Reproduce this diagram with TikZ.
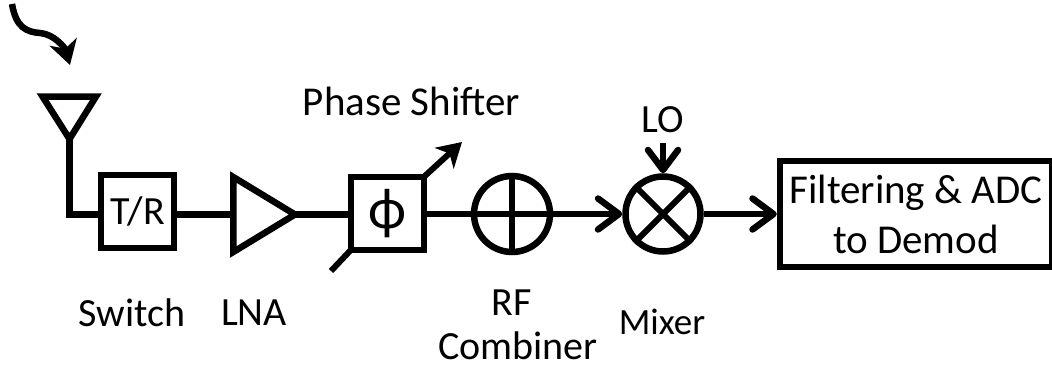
\documentclass[tikz,border=0pt]{standalone}
\usepackage{fontspec}
\setmainfont{Carlito}
\usetikzlibrary{arrows.meta}
\tikzset{
  wire/.style={line width=6.5pt,line join=miter},
  blockbox/.style={draw,line width=6pt,minimum width=73pt,minimum height=73pt,inner sep=0pt},
  ring/.style={draw,circle,line width=6.5pt,inner sep=0pt},
  label/.style={inner sep=0pt,font=\fontsize{40}{45}\selectfont,align=center},
  barb/.style={-{Straight Barb[length=21pt,width=31pt,line width=6.5pt,round]}},
  solidtip/.style={-{Stealth[length=24pt,width=28pt,inset=7pt]}}
}
\begin{document}
\begin{tikzpicture}[x=1pt,y=-1pt]
\useasboundingbox (0,0) rectangle (1052,369);
% incoming wave
\coordinate (wavestart) at (12,4);
\coordinate (wavetip) at (70,65);
\draw[line width=6.5pt,solidtip] (wavestart) .. controls (16,28) and (27,32) .. (40,33) .. controls (54,34) and (65,48) .. (wavetip);
% antenna
\coordinate (antl) at (42.5,96.5);
\coordinate (antr) at (96,96.5);
\coordinate (antb) at (69.5,139);
\draw[line width=6.5pt,miter limit=10] (antl) -- (antr) -- (antb) -- cycle;
% blocks
\node[blockbox,label] (sw) at (137.5,211.5) {T/R};
\node[blockbox] (ps) at (387.5,213.5) {\fontsize{58}{62}\selectfont ϕ};
\node[ring,minimum size=76pt] (comb) at (512,214) {};
\node[ring,minimum size=75pt] (mix) at (663,214) {};
\node[draw,line width=6.5pt,minimum width=272pt,minimum height=106pt,inner sep=0pt,label,font=\fontsize{41}{50}\selectfont] (filt) at (916,214) {Filtering \& ADC\\to Demod};
% LNA
\coordinate (lnat) at (233.25,177);
\coordinate (lnab) at (233.25,252);
\coordinate (lnatip) at (295,214.5);
\draw[line width=6.5pt,miter limit=10] (lnat) -- (lnatip) -- (lnab) -- cycle;
% connectors
\coordinate (feedcorner) at (69.5,214.5);
\draw[wire] (antb) -- (feedcorner) -- (sw.west |- feedcorner);
\draw[wire] (sw.east |- feedcorner) -- (233,214.5);
\draw[wire] (lnatip) -- (ps.west |- lnatip);
\draw[wire] (ps.east |- comb) -- (comb.west);
\draw[wire,barb] (comb.east) -- (mix.west);
\draw[wire,barb] (mix.east) -- (filt.west);
% combiner cross
\draw[line width=6pt] (comb.north) -- (comb.south);
\draw[line width=6pt] (comb.west) -- (comb.east);
% mixer cross
\draw[line width=6pt] (mix.45) -- (mix.225);
\draw[line width=6pt] (mix.135) -- (mix.315);
% LO
\coordinate (lostart) at (663,143);
\draw[wire,-{Straight Barb[length=20pt,width=30pt,line width=6.5pt,round]}] (lostart) -- (mix.north);
% phase shifter control
\coordinate (pstip) at (462,142);
\coordinate (pstail) at (331,271);
\draw[line width=6pt,solidtip,shorten <=-4pt] (ps.north east) -- (pstip);
\draw[line width=6pt,shorten <=-4pt] (ps.south west) -- (pstail);
% labels
\node[label,font=\fontsize{41}{46}\selectfont] (lps) at (411.5,101) {Phase Shifter};
\node[label] (llo) at (663,120) {LO};
\node[label] (lsw) at (132,313) {Switch};
\node[label] (llna) at (254,313) {LNA};
\node[label] (lrf) at (512,303) {RF};
\node[label] (lcomb) at (518,346) {Combiner};
\node[label,font=\fontsize{37}{42}\selectfont] (lmix) at (662,322) {Mixer};
\end{tikzpicture}
\end{document}
